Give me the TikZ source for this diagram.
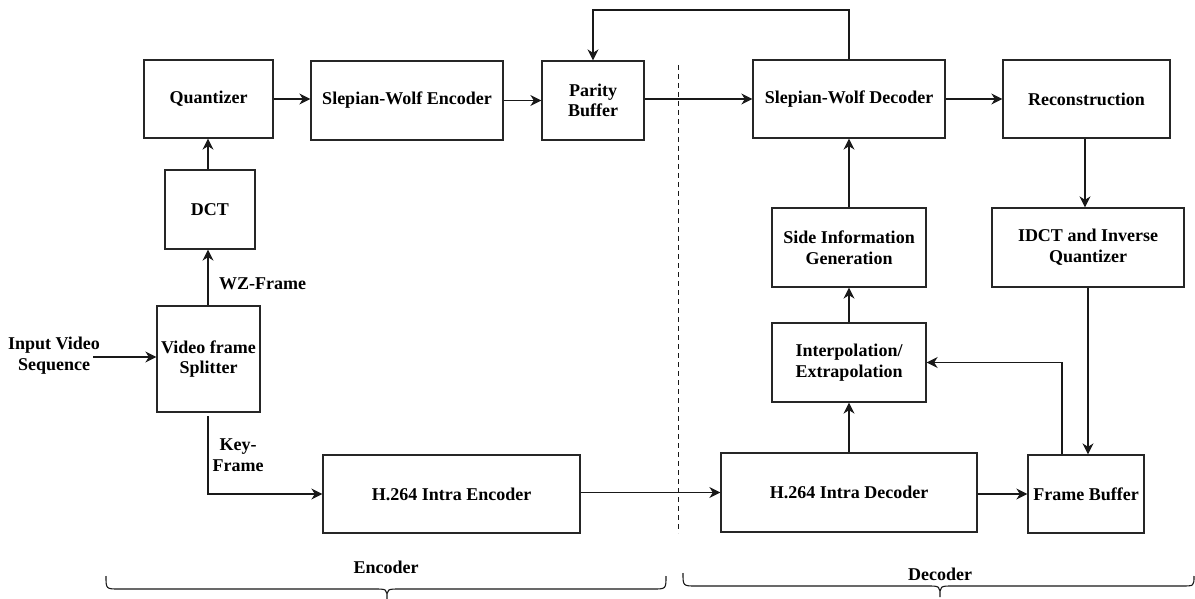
\documentclass[tikz,border=0pt]{standalone}
\usepackage{fontspec}
\setmainfont{Liberation Serif}
\usetikzlibrary{arrows.meta}
\begin{document}
\begin{tikzpicture}[x=1pt,y=-1pt,
  box/.style={draw=black!85,line width=1.3pt,inner sep=2pt,align=center,font=\bfseries\fontsize{18}{20.7}\selectfont},
  lbl/.style={inner sep=0pt,align=center,font=\bfseries\fontsize{18}{20.7}\selectfont},
  arr/.style={draw=black!90,line width=1.3pt,-{Stealth[length=11pt,width=11pt,inset=3.5pt]}},
  ln/.style={draw=black!90,line width=1.3pt}]
\useasboundingbox (0,0) rectangle (1195,599);
% boxes
\node[box,minimum width=129pt,minimum height=78pt] (quant) at (208.5,99) {Quantizer};
\node[box,minimum width=192pt,minimum height=79pt] (swe) at (407,100.5) {Slepian-Wolf Encoder};
\node[box,minimum width=102pt,minimum height=79pt] (pb) at (593,100.5) {Parity\\Buffer};
\node[box,minimum width=192pt,minimum height=78pt] (swd) at (849,99) {Slepian-Wolf Decoder};
\node[box,minimum width=167pt,minimum height=78pt] (recon) at (1086.5,99) {Reconstruction};
\node[box,minimum width=90pt,minimum height=79pt] (dct) at (210,209.5) {DCT};
\node[box,minimum width=154pt,minimum height=79pt] (side) at (849,247.5) {Side Information\\Generation};
\node[box,minimum width=192pt,minimum height=79pt] (idct) at (1088,247.5) {IDCT and Inverse\\Quantizer};
\node[box,minimum width=103pt,minimum height=106pt] (split) at (208.5,359) {Video frame\\Splitter};
\node[box,minimum width=154pt,minimum height=79pt] (interp) at (849,362.5) {Interpolation/\\Extrapolation};
\node[box,minimum width=257pt,minimum height=78pt] (h264e) at (451.5,494) {H.264 Intra Encoder};
\node[box,minimum width=256pt,minimum height=79pt] (h264d) at (849,492.5) {H.264 Intra Decoder};
\node[box,minimum width=116pt,minimum height=78pt] (fb) at (1086,494) {Frame Buffer};
% labels
\node[lbl] (inp) at (54,356) {Input Video\\Sequence};
\node[lbl,anchor=west] (wz) at (219,284) {WZ-Frame};
\node[lbl] (key) at (238,455) {Key-\\Frame};
\node[lbl] (enc) at (386,567) {Encoder};
\node[lbl] (dec) at (940,574) {Decoder};
\coordinate (kf) at (208,416);
\coordinate (fbtop) at (0,10);
\coordinate (inrow) at (0,357);
% connectors
\draw[arr] (quant.east) -- (quant.east -| swe.west);
\draw[arr] (swe.east) -- (swe.east -| pb.west);
\draw[arr] (pb.east |- swd.west) -- (swd.west);
\draw[arr] (swd.east) -- (swd.east -| recon.west);
\draw[arr] (dct.north -| 208,0) -- (quant.south -| 208,0);
\draw[arr] (split.north -| 208,0) -- (dct.south -| 208,0);
\draw[arr] ([xshift=-7pt]inp.east |- inrow) -- (split.west |- inrow);
\draw[arr] (kf) |- (h264e.west);
\draw[arr] (h264e.east |- h264d.west) -- (h264d.west);
\draw[arr] (h264d.east |- fb.west) -- (fb.west);
\draw[arr] (h264d.north) -- (interp.south);
\draw[arr] (interp.north) -- (side.south);
\draw[arr] (side.north) -- (swd.south);
\draw[arr] (swd.north) -- (swd.north |- fbtop) -- (pb.north |- fbtop) -- (pb.north);
\draw[arr] (recon.south -| 1085,0) -- (idct.north -| 1085,0);
\draw[arr] (idct.south -| 1088,0) -- (fb.north -| 1088,0);
\draw[arr] ([xshift=-24pt]fb.north) |- (interp.east);
% divider
\draw[ln,line width=1pt,dash pattern=on 5pt off 4pt] (678,65) -- (678,533);
% braces
\draw[ln,line width=1.1pt] (106,576) .. controls (106,589) .. (119,589) -- (374,589) .. controls (387,589) .. (387,599) .. controls (387,589) .. (400,589) -- (653,589) .. controls (666,589) .. (666,576);
\draw[ln,line width=1.1pt] (683,573) .. controls (683,586) .. (696,586) -- (927,586) .. controls (940,586) .. (940,597) .. controls (940,586) .. (953,586) -- (1182,586) .. controls (1194,586) .. (1194,576);
\end{tikzpicture}
\end{document}
